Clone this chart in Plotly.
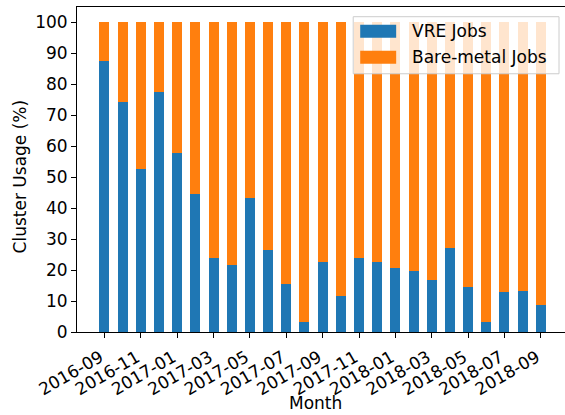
import plotly.graph_objects as go

months = ["2016-09", "2016-10", "2016-11", "2016-12", "2017-01", "2017-02", "2017-03",
          "2017-04", "2017-05", "2017-06", "2017-07", "2017-08", "2017-09", "2017-10",
          "2017-11", "2017-12", "2018-01", "2018-02", "2018-03", "2018-04", "2018-05",
          "2018-06", "2018-07", "2018-08", "2018-09"]
vre_jobs = [87.4, 74.4, 52.7, 77.6, 57.9, 44.7, 24.0, 21.6, 43.3, 26.6, 15.4, 3.2, 22.6,
            11.7, 24.0, 22.6, 20.7, 19.7, 16.8, 27.1, 14.6, 3.2, 13.0, 13.3, 8.7]
bare_metal_jobs = [round(100 - v, 1) for v in vre_jobs]
series_names = ["VRE Jobs", "Bare-metal Jobs"]
tick_labels = months[::2]
y_ticks = list(range(0, 101, 10))

BLUE = "#1f77b4"
ORANGE = "#ff7f0e"
FONT = "DejaVu Sans"

W, H = 565, 415
L, R, T, B = 76.5, 0, 7.3, 83

fig = go.Figure()
fig.add_trace(go.Bar(x=months, y=vre_jobs, name=series_names[0], marker_color=BLUE,
                     marker_line_width=0, width=0.55))
fig.add_trace(go.Bar(x=months, y=bare_metal_jobs, name=series_names[1], marker_color=ORANGE,
                     marker_line_width=0, width=0.55))

pw = W - L - R
ph = H - T - B


def px(x):
    return (x - L) / pw


def py(y):
    return (H - B - y) / ph


shapes = [
    dict(type="rect", xref="paper", yref="paper", x0=px(353), x1=px(559), y0=py(17), y1=py(74),
         fillcolor="rgba(255,255,255,0.8)", line=dict(color="#cccccc", width=1), layer="above"),
    dict(type="rect", xref="paper", yref="paper", x0=px(360), x1=px(396), y0=py(25), y1=py(38),
         fillcolor=BLUE, line=dict(width=0), layer="above"),
    dict(type="rect", xref="paper", yref="paper", x0=px(360), x1=px(396), y0=py(51), y1=py(64),
         fillcolor=ORANGE, line=dict(width=0), layer="above"),
]
annotations = [
    dict(xref="paper", yref="paper", x=px(410), y=py(31.5), text=series_names[0], showarrow=False,
         xanchor="left", yanchor="middle", font=dict(family=FONT, size=17, color="black")),
    dict(xref="paper", yref="paper", x=px(410), y=py(57.5), text=series_names[1], showarrow=False,
         xanchor="left", yanchor="middle", font=dict(family=FONT, size=17, color="black")),
    dict(xref="paper", yref="paper", x=px(315), y=py(403), text="Month", showarrow=False,
         xanchor="center", yanchor="middle", font=dict(family=FONT, size=17, color="black")),
    dict(xref="paper", yref="paper", x=px(19), y=py(177), text="Cluster Usage (%)", showarrow=False,
         textangle=-90, xanchor="center", yanchor="middle",
         font=dict(family=FONT, size=17, color="black")),
]

fig.update_layout(
    width=W, height=H,
    margin=dict(l=L, r=R, t=T, b=B, pad=0, autoexpand=False),
    barmode="stack",
    showlegend=False,
    hovermode=False,
    plot_bgcolor="white", paper_bgcolor="white",
    font=dict(family=FONT, size=17, color="black"),
    shapes=shapes,
    annotations=annotations,
)
fig.update_xaxes(
    type="category",
    range=[-1.51, 25.33],
    automargin=False,
    tickmode="array", tickvals=tick_labels, ticktext=tick_labels,
    tickangle=-30,
    ticklabelshift=-4, ticklabelstandoff=3,
    ticks="outside", ticklen=5, tickcolor="black", tickwidth=1,
    showline=True, linecolor="black", linewidth=1, mirror=True,
    showgrid=False, zeroline=False,
    tickfont=dict(size=17),
)
fig.update_yaxes(
    range=[0, 105],
    automargin=False,
    tickmode="array", tickvals=y_ticks,
    ticks="outside", ticklen=5, tickcolor="black", tickwidth=1,
    showline=True, linecolor="black", linewidth=1,
    showgrid=False, zeroline=False,
    tickfont=dict(size=17),
)

fig.write_html(
    "out.html",
    config={"displayModeBar": False},
    post_script="document.body.style.margin='0';document.body.style.padding='0';",
)
